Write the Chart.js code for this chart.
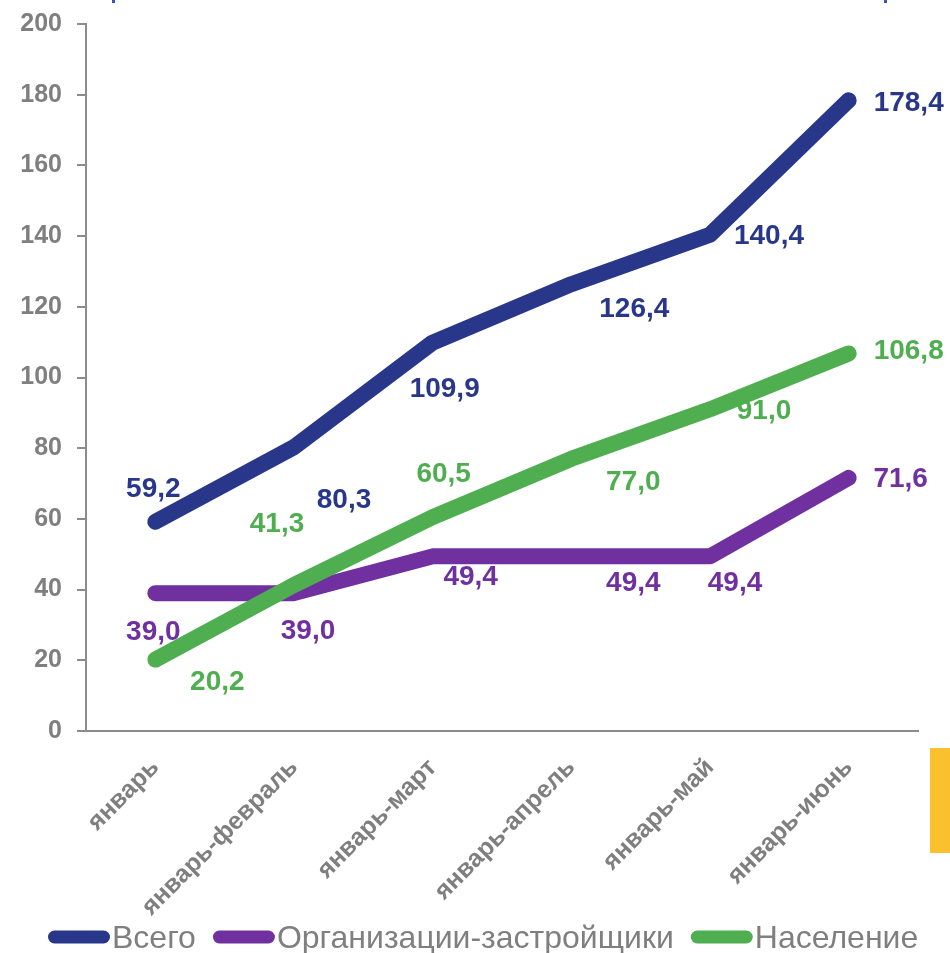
<!DOCTYPE html>
<html>
<head>
<meta charset="utf-8">
<script src="https://cdn.jsdelivr.net/npm/chart.js@4.4.0/dist/chart.umd.min.js"></script>
<style>
  html, body { margin: 0; padding: 0; background: #fff; }
  #wrap { position: relative; width: 950px; height: 953px; }
</style>
</head>
<body>
<div id="wrap"><canvas id="line-chart" width="950" height="953"></canvas></div>
<script>
// chart data
const categories = ['январь', 'январь-февраль', 'январь-март', 'январь-апрель', 'январь-май', 'январь-июнь'];
const seriesNames = ['Всего', 'Организации-застройщики', 'Население'];
const totalValues = [59.2, 80.3, 109.9, 126.4, 140.4, 178.4];
const developerValues = [39.0, 39.0, 49.4, 49.4, 49.4, 71.6];
const populationValues = [20.2, 41.3, 60.5, 77.0, 91.0, 106.8];
const yTicks = [0, 20, 40, 60, 80, 100, 120, 140, 160, 180, 200];

const colors = ['#29378a', '#7030a0', '#4fae4f'];
const gray = '#7f7f7f';

// where each value label sits relative to its point (dx, dy)
const labelOffsets = [
    [[-2, -32], [50, 53], [12, 47], [63, 25], [59, 2], [60, 3]],
    [[-2, 39], [14, 38], [38, 21], [62, 27], [25, 27], [52, 1]],
    [[62, 23], [-17, -61], [11, -43], [62, 23], [54, 2], [60, -2]]
];

const fmt = v => v.toFixed(1).replace('.', ',');

const valueLabels = {
    id: 'valueLabels',
    afterDatasetsDraw(chart) {
        const ctx = chart.ctx;
        ctx.save();
        ctx.font = 'bold 28px "Liberation Sans", Arial, sans-serif';
        ctx.textAlign = 'center';
        ctx.textBaseline = 'middle';
        chart.data.datasets.forEach((ds, i) => {
            const meta = chart.getDatasetMeta(i);
            ctx.fillStyle = colors[i];
            meta.data.forEach((pt, j) => {
                const off = labelOffsets[i][j];
                ctx.fillText(fmt(ds.data[j]), pt.x + off[0], pt.y + off[1]);
            });
        });
        ctx.restore();
    }
};

const legendAndDecor = {
    id: 'legendAndDecor',
    afterDraw(chart) {
        const ctx = chart.ctx;
        ctx.save();
        // yellow strip on the right
        ctx.fillStyle = '#fbc02d';
        ctx.fillRect(930, 748, 20, 105);
        // bits of the cut-off title
        ctx.fillStyle = '#3f51b5';
        ctx.fillRect(112, 0, 3, 3);
        ctx.fillRect(884, 0, 3, 3);

        // legend
        ctx.font = '32px "Liberation Sans", Arial, sans-serif';
        ctx.textBaseline = 'middle';
        ctx.textAlign = 'left';
        let x = 48;
        const y = 937;
        seriesNames.forEach((name, i) => {
            ctx.strokeStyle = colors[i];
            ctx.lineWidth = 13;
            ctx.lineCap = 'round';
            ctx.beginPath();
            ctx.moveTo(x + 6.5, y);
            ctx.lineTo(x + 62 - 6.5, y);
            ctx.stroke();
            ctx.fillStyle = gray;
            ctx.fillText(name, x + 64, y + 2);
            x += 64 + ctx.measureText(name).width + 17;
        });
        ctx.restore();
    }
};

const lineDs = (label, data, color, order) => ({
    label: label,
    data: data,
    borderColor: color,
    backgroundColor: color,
    borderWidth: 16,
    borderCapStyle: 'round',
    borderJoinStyle: 'round',
    pointRadius: 0,
    pointHoverRadius: 0,
    tension: 0,
    order: order
});

new Chart(document.getElementById('line-chart').getContext('2d'), {
    type: 'line',
    data: {
        labels: categories,
        datasets: [
            lineDs(seriesNames[0], totalValues, colors[0], 1),
            lineDs(seriesNames[1], developerValues, colors[1], 2),
            lineDs(seriesNames[2], populationValues, colors[2], 0)
        ]
    },
    options: {
        responsive: false,
        animation: false,
        devicePixelRatio: 1,
        layout: { padding: { top: 24, right: 32, left: 0, bottom: 0 } },
        plugins: {
            legend: { display: false },
            tooltip: { enabled: false }
        },
        scales: {
            x: {
                offset: true,
                afterFit: s => { s.height = 222; s.paddingTop = 0; },
                grid: { display: false, drawTicks: false },
                border: { display: true, color: '#8c8c8c', width: 2 },
                ticks: {
                    autoSkip: false,
                    minRotation: 45,
                    maxRotation: 45,
                    padding: 22,
                    color: gray,
                    font: { family: '"Liberation Sans", Arial, sans-serif', size: 25, weight: 'bold' }
                }
            },
            y: {
                min: 0,
                max: 200,
                afterFit: s => { s.width = 86; s.paddingTop = 0; s.paddingBottom = 0; },
                afterBuildTicks: s => { s.ticks = yTicks.map(v => ({ value: v })); },
                grid: { drawOnChartArea: false, drawTicks: true, tickLength: 9, color: '#8c8c8c', lineWidth: 2 },
                border: { display: true, color: '#8c8c8c', width: 2 },
                ticks: {
                    padding: 15,
                    color: gray,
                    font: { family: '"Liberation Sans", Arial, sans-serif', size: 25, weight: 'bold' }
                }
            }
        }
    },
    plugins: [valueLabels, legendAndDecor]
});
</script>
</body>
</html>
